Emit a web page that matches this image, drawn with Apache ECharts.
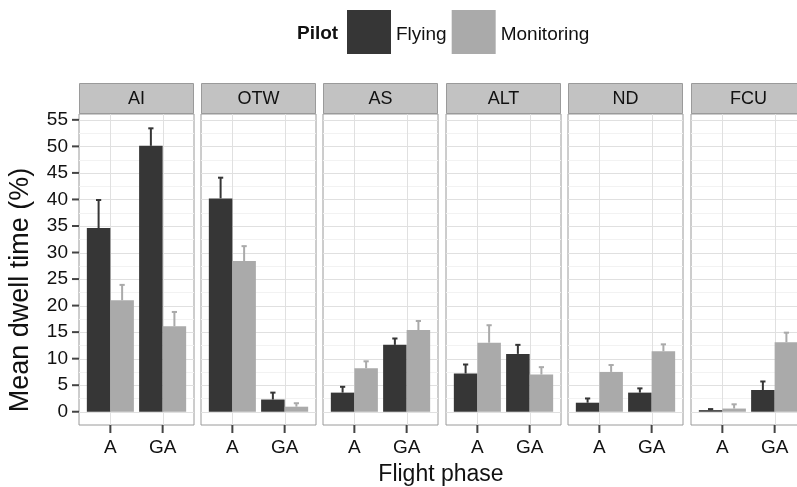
<!DOCTYPE html>
<html><head><meta charset="utf-8">
<script src="https://cdn.jsdelivr.net/npm/echarts@6/dist/echarts.min.js"></script>
<style>html,body{margin:0;padding:0;background:#fff}#c{width:797px;height:487px}</style>
</head><body><div id="c"></div>
<script>
// ---- data ----
const panels = ['AI', 'OTW', 'AS', 'ALT', 'ND', 'FCU'];
const phases = ['A', 'GA'];
const pilots = ['Flying', 'Monitoring'];
// mean dwell time per panel: [A, GA]
const flyingMean = [[34.6, 50.1], [40.2, 2.3], [3.6, 12.6], [7.2, 10.9], [1.7, 3.6], [0.3, 4.1]];
const flyingUpper = [[39.9, 53.4], [44.1, 3.6], [4.7, 13.8], [8.9, 12.6], [2.5, 4.4], [0.5, 5.7]];
const monitoringMean = [[21.0, 16.1], [28.4, 0.95], [8.2, 15.4], [13.0, 7.0], [7.5, 11.4], [0.6, 13.1]];
const monitoringUpper = [[23.9, 18.8], [31.2, 1.6], [9.5, 17.1], [16.3, 8.4], [8.8, 12.7], [1.4, 14.9]];
const yTicks = [0, 5, 10, 15, 20, 25, 30, 35, 40, 45, 50, 55];
const yMinor = [2.5, 7.5, 12.5, 17.5, 22.5, 27.5, 32.5, 37.5, 42.5, 47.5, 52.5];
const xTicks = [1, 2];

// ---- layout / style ----
const FONT = '"Liberation Sans", Arial, Helvetica, sans-serif';
const colors = {Flying: '#363636', Monitoring: '#aaaaaa'};
const PANEL_W = 115, TOP = 114, H = 311;
const XMIN = 0.4, XMAX = 2.6, YMIN = -2.5, YMAX = 56.1;
const TICK_COLOR = '#444', TICK_LEN = 7;
const lefts = panels.map((p, i) => Math.round(78.5 + i * 122.45));

const chart = echarts.init(document.getElementById('c'), null, {renderer: 'canvas'});
const grid = [], xAxis = [], yAxis = [], series = [], graphic = [];

const crisp = v => Math.round(v) + 0.5;
const hiddenLine = {show: false, onZero: false};

panels.forEach((p, i) => {
  grid.push({left: lefts[i], top: TOP, width: PANEL_W, height: H, show: true,
    backgroundColor: '#fff', borderColor: '#9a9a9a', borderWidth: 1,
    containLabel: false, outerBoundsMode: 'none'});
  xAxis.push({gridIndex: i, type: 'value', min: XMIN, max: XMAX, position: 'bottom',
    axisLine: hiddenLine, splitLine: {show: false}, axisTick: {show: false},
    axisLabel: {customValues: xTicks, formatter: v => phases[Math.round(v) - 1],
      fontSize: 19, color: '#111', margin: 13, fontFamily: FONT}});
  yAxis.push({gridIndex: i, type: 'value', min: YMIN, max: YMAX, show: i === 0, position: 'left',
    axisLine: hiddenLine, splitLine: {show: false}, axisTick: {show: false},
    axisLabel: {customValues: yTicks, fontSize: 19, color: '#111', margin: 11, fontFamily: FONT}});

  // grid lines + tick marks (kind: 0 horiz grid, 1 vert grid, 2 x tick, 3 y tick)
  const gl = [];
  yTicks.forEach(v => gl.push([0, v, 1]));
  yMinor.forEach(v => gl.push([0, v, 0]));
  xTicks.forEach(v => gl.push([1, v, 1]));
  xTicks.forEach(v => gl.push([2, v, 1]));
  if (i === 0) yTicks.forEach(v => gl.push([3, v, 1]));
  series.push({type: 'custom', xAxisIndex: i, yAxisIndex: i, z: 1, silent: true, clip: false,
    data: gl,
    renderItem: (params, api) => {
      const kind = api.value(0), v = api.value(1), major = api.value(2);
      let p1, p2, stroke = major ? '#e0e0e0' : '#f2f2f2', lw = 1;
      if (kind === 0) {
        p1 = api.coord([XMIN, v]); p2 = api.coord([XMAX, v]);
        p1[1] = p2[1] = crisp(p1[1]);
      } else if (kind === 1) {
        p1 = api.coord([v, YMIN]); p2 = api.coord([v, YMAX]);
        p1[0] = p2[0] = crisp(p1[0]);
      } else if (kind === 2) {
        p1 = api.coord([v, YMIN]); p2 = [p1[0], p1[1] + TICK_LEN + 1];
        stroke = TICK_COLOR; lw = 2;
      } else {
        p2 = api.coord([XMIN, v]); p1 = [p2[0] - TICK_LEN, p2[1]];
        stroke = TICK_COLOR; lw = 2;
      }
      return {type: 'line', shape: {x1: p1[0], y1: p1[1], x2: p2[0], y2: p2[1]},
        style: {stroke: stroke, lineWidth: lw}};
    }});

  // bars with error bars
  [[flyingMean, flyingUpper, 'Flying', -0.225], [monitoringMean, monitoringUpper, 'Monitoring', 0.225]]
    .forEach(([means, uppers, name, off]) => {
      const color = colors[name];
      series.push({type: 'custom', name: name, xAxisIndex: i, yAxisIndex: i, z: 3,
        itemStyle: {color: color},
        data: phases.map((ph, j) => [xTicks[j], means[i][j], uppers[i][j]]),
        renderItem: (params, api) => {
          const x = api.value(0) + off, m = api.value(1), u = api.value(2);
          const tl = api.coord([x - 0.225, m]);
          const br = api.coord([x + 0.225, 0]);
          const top = api.coord([x, u]);
          const cl = api.coord([x - 0.05, u]);
          const cr = api.coord([x + 0.05, u]);
          return {type: 'group', children: [
            {type: 'rect', shape: {x: tl[0], y: tl[1], width: br[0] - tl[0], height: br[1] - tl[1]},
              style: {fill: color}},
            {type: 'line', shape: {x1: top[0], y1: tl[1], x2: top[0], y2: top[1]},
              style: {stroke: color, lineWidth: 2}},
            {type: 'line', shape: {x1: cl[0], y1: cl[1], x2: cr[0], y2: cr[1]},
              style: {stroke: color, lineWidth: 2}}
          ]};
        }});
    });

  // strip
  graphic.push({type: 'rect', x: lefts[i] + 0.5, y: 83.5, shape: {x: 0, y: 0, width: PANEL_W - 1, height: 30},
    style: {fill: '#c2c2c2', stroke: '#9a9a9a', lineWidth: 1}, z: 10});
  graphic.push({type: 'text', x: lefts[i] + PANEL_W / 2, y: 99, z: 11,
    style: {text: p, fontSize: 18, fontFamily: FONT, fill: '#111', textAlign: 'center', textVerticalAlign: 'middle'}});
});

graphic.push({type: 'text', x: 297, y: 34,
  style: {text: 'Pilot', fontSize: 19, fontWeight: 'bold', fontFamily: FONT, fill: '#111', textAlign: 'left', textVerticalAlign: 'middle'}});
graphic.push({type: 'text', x: 21, y: 290, rotation: Math.PI / 2,
  style: {text: 'Mean dwell time (%)', fontSize: 27, fontFamily: FONT, fill: '#111', textAlign: 'center', textVerticalAlign: 'middle'}});
graphic.push({type: 'text', x: 441, y: 475,
  style: {text: 'Flight phase', fontSize: 23, fontFamily: FONT, fill: '#111', textAlign: 'center', textVerticalAlign: 'middle'}});

chart.setOption({
  animation: false,
  backgroundColor: '#fff',
  textStyle: {fontFamily: FONT},
  legend: {data: pilots, left: 342, top: 5, itemWidth: 44, itemHeight: 44, itemGap: 5,
    icon: 'rect', selectedMode: false,
    formatter: name => '{t|' + name + '}',
    textStyle: {fontSize: 19, color: '#111', fontFamily: FONT,
      rich: {t: {fontSize: 19, color: '#111', fontFamily: FONT, padding: [6, 0, 0, 0]}}}},
  grid, xAxis, yAxis, series, graphic
});
</script>
</body></html>
